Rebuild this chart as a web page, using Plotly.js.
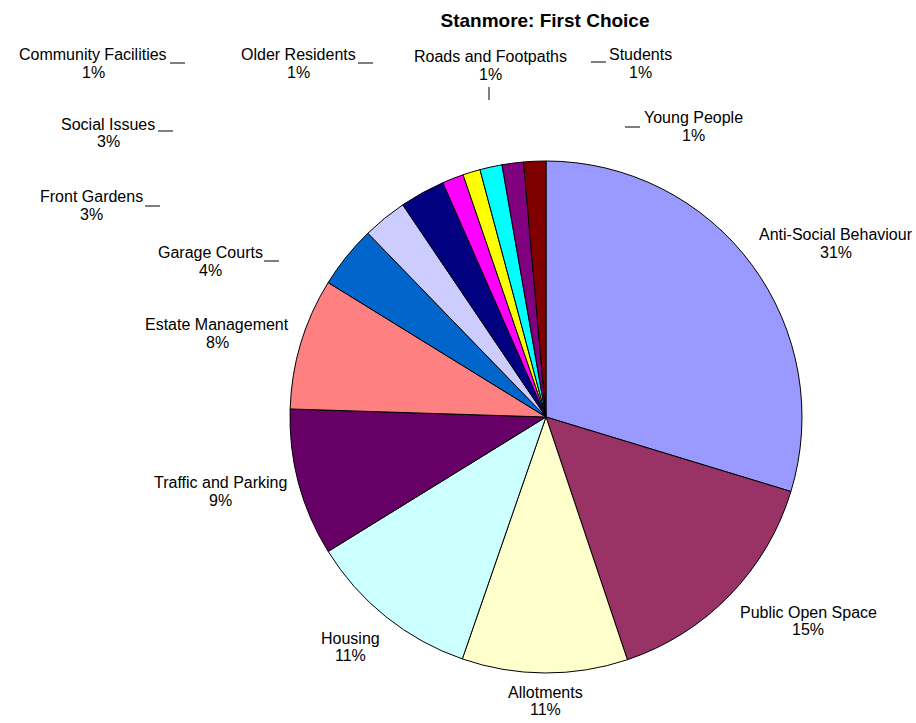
<!DOCTYPE html>
<html>
<head>
<meta charset="utf-8">
<script src="https://cdn.plot.ly/plotly-3.0.1.min.js"></script>
<style>html,body{margin:0;padding:0;background:#fff;}#chart{width:916px;height:723px;}</style>
</head>
<body>
<div id="chart"></div>
<script>
// ---- data (slice shares, in percent) ----
const categories = ['Anti-Social Behaviour','Public Open Space','Allotments','Housing','Traffic and Parking','Estate Management','Garage Courts','Front Gardens','Social Issues','Community Facilities','Older Residents','Roads and Footpaths','Students','Young People'];
const shares = [29.7, 15.15, 10.45, 10.9, 9.3, 8.3, 3.95, 2.8, 2.85, 1.35, 1.1, 1.4, 1.35, 1.4];
const percentLabels = ['31%','15%','11%','11%','9%','8%','4%','3%','3%','1%','1%','1%','1%','1%'];
const sliceColors = ['#9999FF','#993366','#FFFFCC','#CCFFFF','#660066','#FF8080','#0066CC','#CCCCFF','#000080','#FF00FF','#FFFF00','#00FFFF','#800080','#800000'];
const chartTitle = 'Stanmore: First Choice';

// ---- label placement (pixel centres of the first text line) ----
const labelPos = [
  [836, 235], [808, 612], [545, 692], [350, 638], [220, 483], [217, 325],
  [210, 253], [91, 197], [108, 124], [93, 55], [298, 55], [490, 57],
  [640, 55], [693, 118]
];
// leader marks: [x0, y0, x1, y1] in pixels
const leaders = [
  [170, 63, 185, 63], [358, 63, 373, 63], [158, 131, 173, 131],
  [145, 206, 160, 206], [264, 261, 279, 261], [489, 87, 489, 100],
  [591, 62, 606, 62], [625, 127, 640, 127]
];

const W = 916, H = 723;
const px = x => x / W, py = y => 1 - y / H;
const FONT = 'Liberation Sans, Arial, sans-serif';

const annotations = [];
categories.forEach((c, i) => {
  const [x, y] = labelPos[i];
  annotations.push({xref:'paper', yref:'paper', x: px(x), y: py(y), text: c, showarrow:false,
    xanchor:'center', yanchor:'middle', font:{family:FONT, size:16, color:'#000'}});
  annotations.push({xref:'paper', yref:'paper', x: px(x), y: py(y + 17.5),
    text: percentLabels[i], showarrow:false,
    xanchor:'center', yanchor:'middle', font:{family:FONT, size:16, color:'#000'}});
});

const shapes = leaders.map(l => ({type:'line', xref:'paper', yref:'paper',
  x0: px(l[0]), y0: py(l[1]), x1: px(l[2]), y1: py(l[3]), line:{color:'#000', width:1}}));

const trace = {
  type: 'pie',
  labels: categories,
  values: shares,
  marker: {colors: sliceColors, line: {color: '#000', width: 1}},
  sort: false,
  direction: 'clockwise',
  rotation: 0,
  textinfo: 'none',
  hoverinfo: 'label',
  domain: {x: [px(290), px(802)], y: [py(673), py(161)]}
};

const layout = {
  width: W, height: H,
  margin: {l:0, r:0, t:0, b:0},
  paper_bgcolor: '#fff', plot_bgcolor: '#fff',
  showlegend: false,
  title: {text: '<b>' + chartTitle + '</b>', x: px(545), y: py(20), xanchor:'center', yanchor:'middle',
    xref:'paper', yref:'paper', font: {family: FONT, size: 19, color: '#000'}},
  annotations: annotations,
  shapes: shapes
};

Plotly.newPlot('chart', [trace], layout, {displayModeBar: false, staticPlot: true});
</script>
</body>
</html>
